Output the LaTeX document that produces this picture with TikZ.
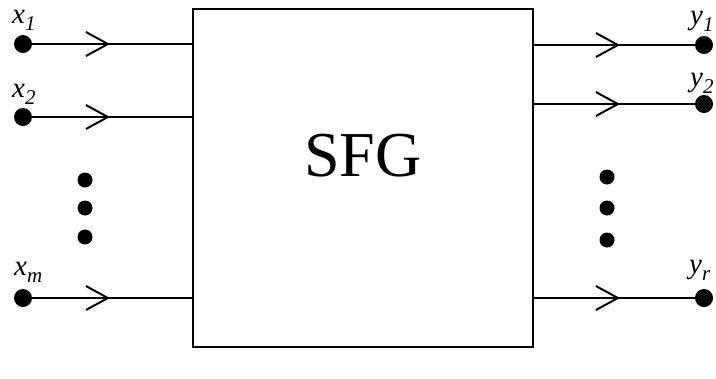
\documentclass[tikz,border=0pt]{standalone}
\usepackage{fontspec}
\setmainfont{Liberation Serif}
\usetikzlibrary{arrows.meta}
\newcommand{\lbl}[2]{#1\raisebox{-7bp}{\fontsize{21bp}{21bp}\selectfont #2}}
\begin{document}
\begin{tikzpicture}[x=1bp,y=-1bp,
  wire/.style={line width=2bp},
  sig/.style={circle,fill=black,inner sep=0pt,minimum size=18bp},
  ell/.style={circle,fill=black,inner sep=0pt,minimum size=15bp},
  chev/.style={wire,-{Straight Barb[length=22bp,width=24bp,line width=2bp]}},
  lab/.style={font=\fontsize{29bp}{31bp}\selectfont\itshape,inner sep=0pt,anchor=base west}]
\useasboundingbox (0,0) rectangle (716,378);
\node[draw,line width=2bp,minimum width=340bp,minimum height=338bp,inner sep=0pt] (box) at (363,178) {};
\node[font=\fontsize{64bp}{68bp}\selectfont] (t) at (363,156) {SFG};
% inputs
\node[sig] (x1) at (23,44) {};
\node[sig] (x2) at (23,117) {};
\node[sig] (xm) at (23,298) {};
\coordinate (a1) at (110,44);
\coordinate (a2) at (110,117);
\coordinate (am) at (110,298);
\draw[wire] (x1) -- (x1 -| box.west); \draw[chev] ([xshift=-40bp]a1) -- (a1);
\draw[wire] (x2) -- (x2 -| box.west); \draw[chev] ([xshift=-40bp]a2) -- (a2);
\draw[wire] (xm) -- (xm -| box.west); \draw[chev] ([xshift=-40bp]am) -- (am);
\node[lab] (lx1) at (12,23) {\lbl{x}{1}};
\node[lab] (lx2) at (12,97) {\lbl{x}{2}};
\node[lab] (lxm) at (14,275) {\lbl{x}{m}};
\node[ell] (d1) at (85,180) {};
\node[ell] (d2) at (85,208) {};
\node[ell] (d3) at (85,237) {};
% outputs
\node[sig] (y1) at (704,45) {};
\node[sig] (y2) at (704,104) {};
\node[sig] (yr) at (704,298) {};
\coordinate (b1) at (620,45);
\coordinate (b2) at (620,104);
\coordinate (br) at (620,298);
\draw[wire] (y1 -| box.east) -- (y1); \draw[chev] ([xshift=-40bp]b1) -- (b1);
\draw[wire] (y2 -| box.east) -- (y2); \draw[chev] ([xshift=-40bp]b2) -- (b2);
\draw[wire] (yr -| box.east) -- (yr); \draw[chev] ([xshift=-40bp]br) -- (br);
\node[lab] (ly1) at (690,24) {\lbl{y}{1}};
\node[lab] (ly2) at (690,86) {\lbl{y}{2}};
\node[lab] (lyr) at (689,273) {\lbl{y}{r}};
\node[ell] (e1) at (607,177) {};
\node[ell] (e2) at (607,208) {};
\node[ell] (e3) at (607,240) {};
\end{tikzpicture}
\end{document}
